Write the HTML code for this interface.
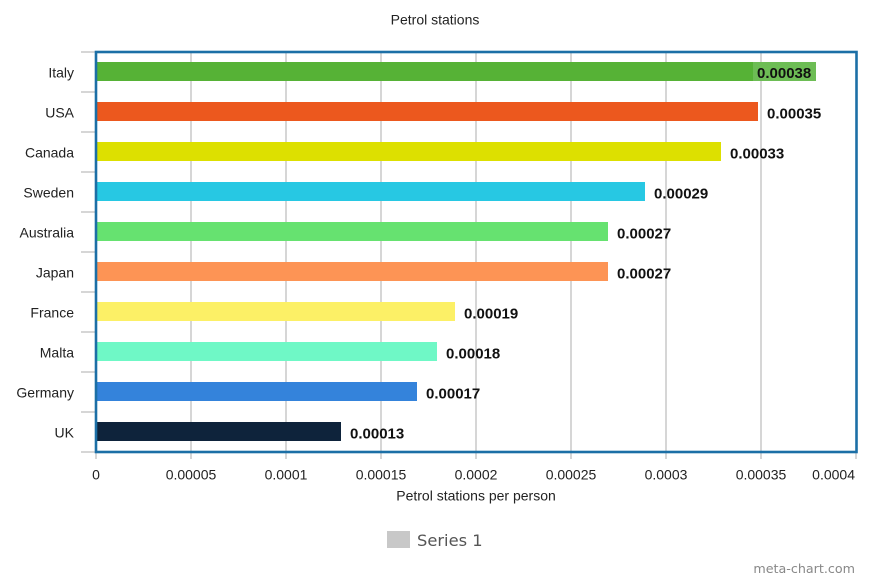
<!DOCTYPE html>
<html><head><meta charset="utf-8"><style>
html,body{margin:0;padding:0;background:#fff;}
svg{display:block;}
</style></head><body>
<svg width="870" height="580" viewBox="0 0 870 580" xmlns="http://www.w3.org/2000/svg">
<rect width="870" height="580" fill="#fff"/>
<text x="435" y="24.5" text-anchor="middle" font-family="Liberation Sans, sans-serif" font-size="14" fill="#222">Petrol stations</text>
<g stroke="#c9c9c9" stroke-width="1.5">
<line x1="191" y1="52" x2="191" y2="459"/>
<line x1="286" y1="52" x2="286" y2="459"/>
<line x1="381" y1="52" x2="381" y2="459"/>
<line x1="476" y1="52" x2="476" y2="459"/>
<line x1="571" y1="52" x2="571" y2="459"/>
<line x1="666" y1="52" x2="666" y2="459"/>
<line x1="761" y1="52" x2="761" y2="459"/>
<line x1="856" y1="452" x2="856" y2="459"/>
<line x1="96" y1="452" x2="96" y2="459"/>
<line x1="81" y1="52" x2="96" y2="52"/>
<line x1="81" y1="92" x2="96" y2="92"/>
<line x1="81" y1="132" x2="96" y2="132"/>
<line x1="81" y1="172" x2="96" y2="172"/>
<line x1="81" y1="212" x2="96" y2="212"/>
<line x1="81" y1="252" x2="96" y2="252"/>
<line x1="81" y1="292" x2="96" y2="292"/>
<line x1="81" y1="332" x2="96" y2="332"/>
<line x1="81" y1="372" x2="96" y2="372"/>
<line x1="81" y1="412" x2="96" y2="412"/>
<line x1="81" y1="452" x2="96" y2="452"/>
</g>
<g>
<rect x="96" y="62" width="720" height="19" fill="#56b236"/>
<rect x="753" y="62" width="63" height="19" fill="#6dbd55"/>
<rect x="96" y="102" width="662" height="19" fill="#ec581e"/>
<rect x="96" y="142" width="625" height="19" fill="#dde000"/>
<rect x="96" y="182" width="549" height="19" fill="#27c8e3"/>
<rect x="96" y="222" width="512" height="19" fill="#66e270"/>
<rect x="96" y="262" width="512" height="19" fill="#fd9455"/>
<rect x="96" y="302" width="359" height="19" fill="#fcf066"/>
<rect x="96" y="342" width="341" height="19" fill="#6ff8c6"/>
<rect x="96" y="382" width="321" height="19" fill="#3483db"/>
<rect x="96" y="422" width="245" height="19" fill="#0e233b"/>
</g>
<rect x="96" y="52" width="760.5" height="400" fill="none" stroke="#1c6fa6" stroke-width="2.6"/>
<g font-family="Liberation Sans, sans-serif" font-size="15" font-weight="bold" fill="#111">
<text x="757" y="78">0.00038</text>
<text x="767" y="118.5">0.00035</text>
<text x="730" y="158.5">0.00033</text>
<text x="654" y="198.5">0.00029</text>
<text x="617" y="238.5">0.00027</text>
<text x="617" y="278.5">0.00027</text>
<text x="464" y="318.5">0.00019</text>
<text x="446" y="358.5">0.00018</text>
<text x="426" y="398.5">0.00017</text>
<text x="350" y="438.5">0.00013</text>
</g>
<g font-family="Liberation Sans, sans-serif" font-size="14" fill="#222" text-anchor="end">
<text x="74" y="77.5">Italy</text>
<text x="74" y="117.5">USA</text>
<text x="74" y="157.5">Canada</text>
<text x="74" y="197.5">Sweden</text>
<text x="74" y="237.5">Australia</text>
<text x="74" y="277.5">Japan</text>
<text x="74" y="317.5">France</text>
<text x="74" y="357.5">Malta</text>
<text x="74" y="397.5">Germany</text>
<text x="74" y="437.5">UK</text>
</g>
<g font-family="Liberation Sans, sans-serif" font-size="14" fill="#222" text-anchor="middle">
<text x="96" y="479.5">0</text>
<text x="191" y="479.5">0.00005</text>
<text x="286" y="479.5">0.0001</text>
<text x="381" y="479.5">0.00015</text>
<text x="476" y="479.5">0.0002</text>
<text x="571" y="479.5">0.00025</text>
<text x="666" y="479.5">0.0003</text>
<text x="761" y="479.5">0.00035</text>
<text x="855" y="479.5" text-anchor="end">0.0004</text>
<text x="476" y="500.5">Petrol stations per person</text>
</g>
<rect x="387" y="531" width="23" height="17" fill="#c8c8c8"/>
<text x="417" y="546" font-family="DejaVu Sans, sans-serif" font-size="16.3" fill="#555">Series 1</text>
<text x="855" y="573" text-anchor="end" font-family="DejaVu Sans, sans-serif" font-size="12.7" fill="#888">meta-chart.com</text>
</svg>
</body></html>
